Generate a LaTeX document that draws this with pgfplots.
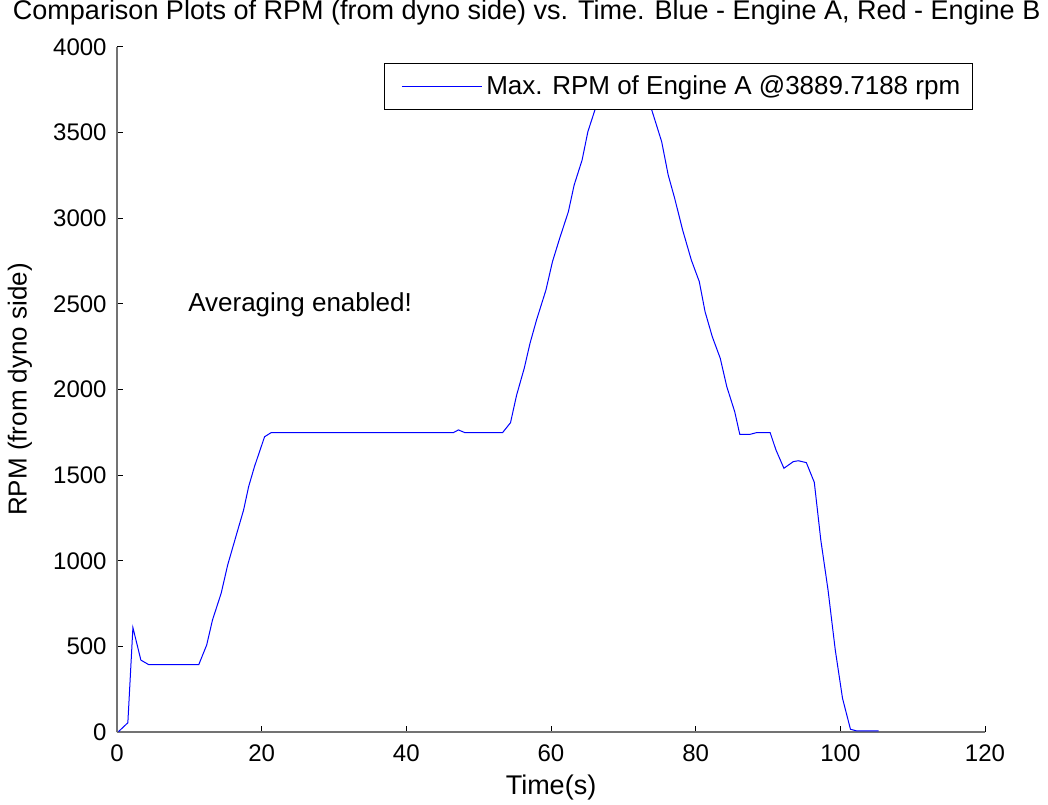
\documentclass[border=0pt]{standalone}
\usepackage{fontspec}
\setmainfont{Liberation Sans}
\usepackage{pgfplots}
\pgfplotsset{compat=1.18}
\definecolor{mlblue}{RGB}{0,0,255}

\begin{document}
\begin{tikzpicture}
\begin{axis}[
    scale only axis,
    clip=false,
    width=434pt, height=342.5pt,
    xmin=0, xmax=120, ymin=0, ymax=4000,
    xtick={0,20,...,120},
    ytick={0,500,...,4000},
    axis x line*=bottom, axis y line*=left,
    axis line style={-, black!55, line width=0.6pt},
    tick align=inside, major tick length=3pt,
    tick style={black, line width=0.5pt},
    /pgf/number format/assume math mode=true,
    /pgf/number format/1000 sep={},
    tick label style={font=\fontsize{12}{14}\selectfont},
    xticklabel style={inner sep=0pt, yshift=-6pt},
    yticklabel style={inner sep=0pt, xshift=-5pt},
    xlabel={Time(s)},
    xlabel style={at={(axis description cs:0.5,-0.0803)}, anchor=center, font=\fontsize{13.5}{15}\selectfont},
    ylabel={RPM (from dyno side)},
    ylabel style={at={(axis description cs:-0.1118,0.5)}, anchor=center, font=\fontsize{13}{15}\selectfont},
    legend style={at={(0.986,0.977)}, anchor=north east, draw=black, fill=white,
                  line width=0.6pt,
                  font=\fontsize{13}{15}\selectfont, inner xsep=4pt, inner ysep=4pt},
    legend cell align=left,
    legend image code/.code={\path (-4.5pt,0pt); \draw[#1] (0pt,0pt) -- (40pt,0pt);},
]
\addplot[mlblue, line width=0.5pt] coordinates {
    (0.2,2) (1.5,54) (2.2,610) (3.3,420) (4.4,393) (5.5,393) (6.6,393)
    (7.8,393) (8.9,393) (10.1,393) (11.3,393) (12.4,508) (13.2,654)
    (14.4,810) (15.3,975) (15.9,1063) (16.7,1180) (17.5,1296) (18.2,1433)
    (19.0,1549) (20.4,1724) (21.3,1748) (25,1748) (30,1748) (35,1748)
    (40,1748) (46.5,1748) (47.2,1764) (48.1,1748) (53.3,1748) (54.4,1806)
    (55.25,1968) (56.3,2124) (57.1,2270) (58.0,2406) (59.3,2581)
    (60.2,2746) (61.2,2883) (62.4,3038) (63.2,3194) (64.3,3340)
    (65.1,3506) (66.1,3636) (67.2,3770) (68.3,3860) (69.4,3889.7188)
    (70.5,3880) (71.6,3840) (72.7,3760) (73.9,3636) (75.3,3447)
    (76.2,3253) (77.1,3116) (78.2,2931) (79.4,2756) (80.5,2630)
    (81.3,2454) (82.3,2308) (83.4,2182) (84.3,2017) (85.4,1870)
    (86.1,1738) (87.5,1738) (88.4,1748) (90.3,1748) (91.1,1647)
    (92.2,1540) (93.5,1579) (94.2,1584) (95.3,1573) (96.4,1458)
    (97.3,1121) (98.3,829) (99.3,479) (100.3,197) (101.4,16)
    (102.3,6) (105.3,6)
};
\addlegendentry{Max. RPM of Engine A @3889.7188 rpm}
\node[anchor=west, inner sep=0pt, font=\fontsize{13}{15}\selectfont] at (axis cs:9.8,2493) {Averaging enabled!};
\node[anchor=base, inner sep=0pt, yshift=13.5pt, font=\fontsize{13.5}{15}\selectfont]
    at (rel axis cs:0.472,1) {Comparison Plots of RPM (from dyno side) vs. Time. Blue - Engine A, Red - Engine B};
\end{axis}
\pgfresetboundingbox
\path[use as bounding box] (-58.5pt,-36pt) rectangle (465.5pt,366pt);
\end{tikzpicture}
\end{document}
